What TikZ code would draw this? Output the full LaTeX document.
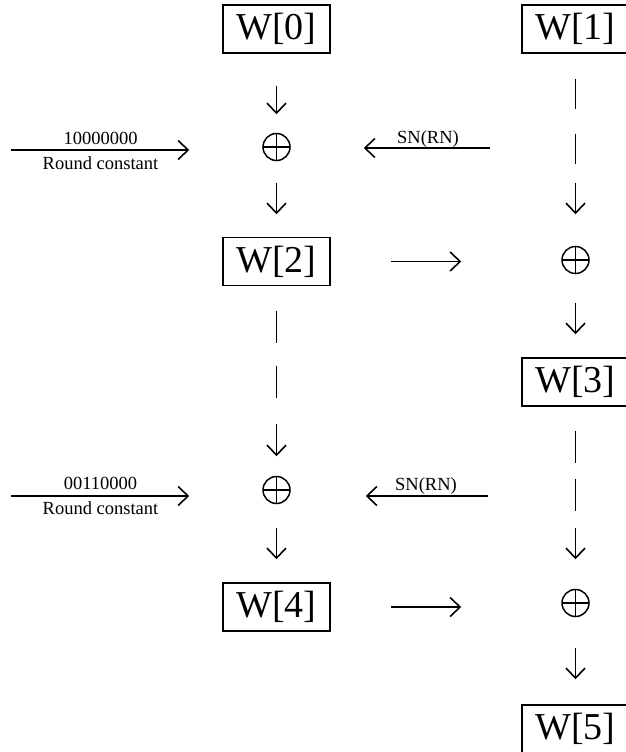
\documentclass[tikz,border=0pt]{standalone}
\usepackage{fontspec}
\setmainfont{Liberation Serif}
\usetikzlibrary{arrows.meta}
\begin{document}
\begin{tikzpicture}[x=1pt,y=-1pt,
  wbox/.style={draw, line width=1.5pt, minimum width=107pt, minimum height=48pt, inner sep=0pt, font=\fontsize{38}{40}\selectfont},
  xorc/.style={circle, draw, line width=1.5pt, minimum size=27pt, inner sep=0pt,
    path picture={\draw[line width=1.5pt] (path picture bounding box.north) -- (path picture bounding box.south) (path picture bounding box.west) -- (path picture bounding box.east);}},
  arr/.style={-{Straight Barb[length=10pt,width=19pt]}, line width=1.6pt},
  lbl/.style={font=\fontsize{18.5}{20}\selectfont, inner sep=0pt, anchor=base}
]
\useasboundingbox (0,0) rectangle (626,752);

% nodes
\node[wbox] (W0) at (276.5,29) {W[0]};
\node[wbox] (W1) at (575.5,29) {W[1]};
\node[xorc] (x1) at (276.5,147) {};
\node[wbox] (W2) at (276.5,261.5) {W[2]};
\node[xorc] (x2) at (575.5,260) {};
\node[wbox] (W3) at (575.5,382) {W[3]};
\node[xorc] (x3) at (276.5,490) {};
\node[wbox] (W4) at (276.5,607) {W[4]};
\node[xorc] (x4) at (575.5,603) {};
\node[wbox] (W5) at (575.5,729) {W[5]};

\coordinate (rc1) at (11,150);
\coordinate (sn1) at (490,148);
\coordinate (rc2) at (11,496);
\coordinate (sn2) at (488,496);

% left column vertical arrows
\draw[arr, shorten <=32pt, shorten >=18.5pt] (W0) -- (x1);
\draw[arr, shorten <=21.5pt, shorten >=22.5pt] (x1) -- (W2);
\draw[arr, shorten <=24.5pt, shorten >=19.5pt, dash pattern=on 32pt off 23pt on 32pt off 26pt on 80pt] (W2.south) -- (x3.north);
\draw[arr, shorten <=23.5pt, shorten >=23pt] (x3) -- (W4);

% right column vertical arrows
\draw[arr, shorten <=25pt, shorten >=31.5pt, dash pattern=on 30pt off 25pt on 30pt off 19pt on 80pt] (W1.south) -- (x2.north);
\draw[arr, shorten <=28.5pt, shorten >=23pt] (x2) -- (W3);
\draw[arr, shorten <=24pt, shorten >=29.5pt, dash pattern=on 32pt off 16pt on 32pt off 17pt on 80pt] (W3.south) -- (x4.north);
\draw[arr, shorten <=30.5pt, shorten >=25pt] (x4) -- (W5);

% horizontal arrows
\draw[arr, shorten >=73pt] (rc1) -- (rc1 -| x1.west);
\draw[arr, shorten >=73pt] (sn1) -- (sn1 -| x1.east);
\draw[arr, shorten <=60pt, shorten >=100pt] (W2.east) -- (W2.east -| x2.west);
\draw[arr, shorten >=73pt] (rc2) -- (rc2 -| x3.west);
\draw[arr, shorten >=75pt] (sn2) -- (sn2 -| x3.east);
\draw[arr, shorten <=60pt, shorten >=100pt] (W4.east) -- (W4.east -| x4.west);

% labels
\node[lbl] (l1) at (100.5,144) {10000000};
\node[lbl] (l2) at (100.5,169) {Round constant};
\node[lbl] (l3) at (428,143) {SN(RN)};
\node[lbl] (l4) at (100.5,489.5) {00110000};
\node[lbl] (l5) at (100.5,514) {Round constant};
\node[lbl] (l6) at (426,490) {SN(RN)};
\end{tikzpicture}
\end{document}
